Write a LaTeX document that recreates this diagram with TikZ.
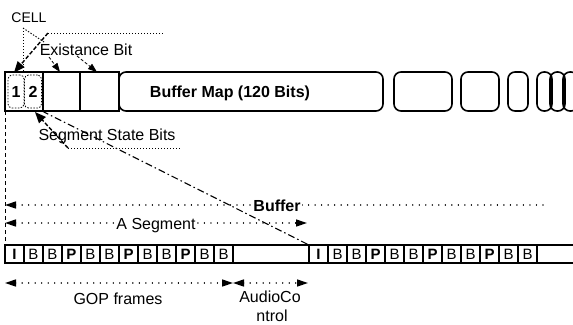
\documentclass[tikz,border=0pt]{standalone}
\usepackage{fontspec}
\setmainfont{Liberation Sans}
\usetikzlibrary{arrows.meta}
\begin{document}
\begin{tikzpicture}[x=1bp,y=-1bp,
  txt/.style={font=\fontsize{16bp}{18bp}\selectfont, inner sep=0pt, anchor=base},
  btxt/.style={txt, font=\fontsize{16bp}{18bp}\selectfont\bfseries},
  cellbox/.style={draw, line width=1.6bp, outer sep=0pt, inner sep=0pt, anchor=north west, minimum height=39bp},
  rbox/.style={cellbox, rounded corners=7bp},
  dcell/.style={draw, line width=0.8bp, dash pattern=on 1.5bp off 1.5bp, rounded corners=4bp, outer sep=0pt, inner sep=0pt, anchor=north west, minimum height=33bp, font=\fontsize{16bp}{18bp}\selectfont\bfseries},
  frm/.style={draw, line width=1.3bp, outer sep=0pt, inner sep=0pt, anchor=north west, minimum width=19bp, minimum height=18bp, font=\fontsize{15bp}{15bp}\selectfont},
  bigtip/.style={-{Triangle[length=11bp,width=9bp]}},
  smalltip/.style={-{Triangle[length=9bp,width=6.5bp]}},
  dotline/.style={line width=1.4bp, line cap=round, dash pattern=on 0.01bp off 6.5bp},
  dimboth/.style={dotline, {Triangle[length=11bp,width=7bp]}-{Triangle[length=11bp,width=7bp]}},
  dimleft/.style={dotline, {Triangle[length=11bp,width=7bp]}-},
  fine/.style={line width=0.9bp, dash pattern=on 1.4bp off 1.6bp},
  thickdash/.style={line width=1.4bp, dash pattern=on 4bp off 2bp},
  thindash/.style={line width=0.8bp, dash pattern=on 3bp off 2bp},
  dashdot/.style={line width=1.1bp, dash pattern=on 7bp off 3bp on 1.5bp off 3bp},
]
\useasboundingbox (0,0) rectangle (573,324);

% ---- top buffer map bar ----
\node[rbox, minimum width=264bp] (bmap) at (119,72) {};
\node[cellbox, minimum width=38bp] (b1) at (5,72) {};
\node[cellbox, minimum width=37bp] (b2) at (43,72) {};
\node[cellbox, minimum width=39bp] (b3) at (80,72) {};
\node[dcell, minimum width=16bp] (cell1) at (8,75) {1};
\node[dcell, minimum width=17bp] (cell2) at (24.5,75) {2};
\node[btxt] (bmaptxt) at (230,97) {Buffer Map (120 Bits)};

\node[rbox, minimum width=58bp] (r1) at (394,72) {};
\node[rbox, minimum width=38bp] (r2) at (461,72) {};
\node[rbox, minimum width=20bp] (r3) at (508,72) {};
\node[rbox, minimum width=15bp] (r4) at (537,72) {};
\node[rbox, minimum width=15bp] (r5) at (550,72) {};
\node[rbox, minimum width=15bp] (r6) at (563,72) {};

% ---- labels ----
\node[txt, font=\fontsize{14bp}{16bp}\selectfont] (cell) at (29,22) {CELL};
\node[txt] (exist) at (86,55.5) {Existance Bit};
\node[txt] (segst) at (107,140) {Segment State Bits};

% ---- callout lines ----
\coordinate (cellpt) at (23,28);
\coordinate (mid) at (44,42);
\coordinate (ex) at (48,33);
\coordinate (exr) at (163,33);
\coordinate (c1top) at (14,72.5);
\coordinate (e1) at (49,57);
\coordinate (e2) at (77,56);
\coordinate (b2top) at (60,72);
\coordinate (b3top) at (97,72);
\draw[fine] (ex) -- (exr);
\draw[fine] (cellpt) -- (cellpt |- b1.north);
\draw[fine] (cellpt) -- (mid);
\draw[thickdash, bigtip] (ex) -- (c1top);
\draw[thindash, smalltip] (e1) -- (b2top);
\draw[thindash, smalltip] (e2) -- (b3top);

\coordinate (ss) at (68,148);
\coordinate (ssr) at (182,148);
\coordinate (c2bot) at (35,112);
\draw[fine] (ss) -- (ssr);
\draw[thickdash, bigtip] (ss) -- (c2bot);

% ---- GOP frame row ----
\draw[line width=1.3bp] (5,245) -- (574,245) (5,263) -- (574,263);
\foreach \t [count=\i] in {{\bfseries I},B,B,{\bfseries P},B,B,{\bfseries P},B,B,{\bfseries P},B,B}{
  \node[frm] (f\i) at ({5+19*(\i-1)},245) {\t};
  \node[frm] (g\i) at ({309+19*(\i-1)},245) {\t};
}

% ---- long dash-dot line and left guide ----
\coordinate (segstart) at (42,111);
\draw[dashdot] (segstart) -- (g1.north west);
\draw[line width=1bp, dash pattern=on 4bp off 3bp] (b1.south west) -- (f1.north west);

% ---- dimension arrows ----
\coordinate (bufL) at (5,205);
\coordinate (bufR) at (543,205);
\draw[dimleft] (bufL) -- (bufR);
\node[btxt, fill=white, inner sep=1.5bp] (buf) at (277,211) {Buffer};

\coordinate (segL) at (5,223);
\coordinate (segR) at (307,223);
\draw[dimboth] (segL) -- (segR);
\node[txt, fill=white, inner sep=1.5bp] (aseg) at (156,229) {A Segment};

\coordinate (gopL) at (5,283);
\coordinate (gopR) at (233,283);
\coordinate (audR) at (308,283);
\draw[dimboth] (gopL) -- (gopR);
\draw[dimboth] (gopR) -- (audR);
\node[txt] (gop) at (118,304) {GOP frames};
\node[txt] (aud1) at (270,302) {AudioCo};
\node[txt] (aud2) at (272,321) {ntrol};
\end{tikzpicture}
\end{document}
